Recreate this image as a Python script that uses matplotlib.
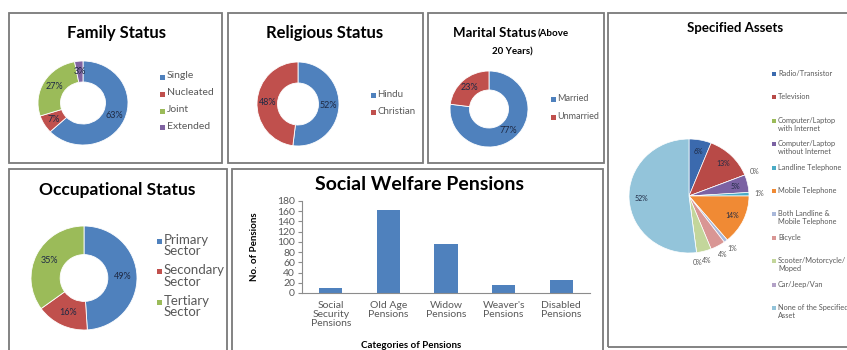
import math
import matplotlib
matplotlib.use('Agg')
from matplotlib import pyplot as plt
from matplotlib.patches import Rectangle

plt.rcParams['font.family'] = ['Lato', 'DejaVu Sans']

W, H = 847, 350

BLUE = '#4F81BD'
RED = '#C0504D'
GREEN = '#9BBB59'
PURPLE = '#8064A2'
GREY_TEXT = '#595959'

# --- data --- #
family_labels = ['Single', 'Nucleated', 'Joint', 'Extended']
family_values = [63, 7, 27, 3]

religion_labels = ['Hindu', 'Christian']
religion_values = [52, 48]

marital_labels = ['Married', 'Unmarried']
marital_values = [77, 23]

occupation_labels = ['Primary\nSector', 'Secondary\nSector', 'Tertiary\nSector']
occupation_values = [49, 16, 35]

pension_labels = ['Social\nSecurity\nPensions', 'Old Age\nPensions', 'Widow\nPensions',
                  "Weaver's\nPensions", 'Disabled\nPensions']
pension_counts = [9, 163, 95, 16, 25]
pension_ticks = list(range(0, 181, 20))

asset_labels = ['Radio/Transistor', 'Television', 'Computer/Laptop\nwith Internet',
                'Computer/Laptop\nwithout Internet', 'Landline Telephone', 'Mobile Telephone',
                'Both Landline &\nMobile Telephone', 'Bicycle', 'Scooter/Motorcycle/\nMoped',
                'Car/Jeep/Van', 'None of the Specified\nAsset']
asset_values = [6, 13, 0, 5, 1, 14, 1, 4, 4, 0, 52]
asset_colors = ['#3B6AAE', '#B84A47', '#9BBB59', '#7B62A3', '#4BACC6', '#F08A34',
                '#A9B8DA', '#D99694', '#C3D69B', '#B3A2C7', '#93C4DA']

fig = plt.figure(figsize=(W / 100, H / 100), dpi=100)


def fx(x):
    return x / W


def fy(y):
    return 1 - y / H


def add_box(x0, y0, x1, y1):
    fig.patches.append(Rectangle((fx(x0), fy(y1)), (x1 - x0) / W, (y1 - y0) / H,
                                 transform=fig.transFigure, fill=False,
                                 edgecolor='#7a7a7a', linewidth=1.3))


def add_legend(x, y0, step, labels, colors, size, box=5, spacing=1.15):
    for i, (label, color) in enumerate(zip(labels, colors)):
        y = y0 + i * step
        fig.patches.append(Rectangle((fx(x - box / 2), fy(y + box / 2)), box / W, box / H,
                                     transform=fig.transFigure, color=color, linewidth=0))
        fig.text(fx(x + box / 2 + 2), fy(y - size * 0.75), label, fontsize=size,
                 color=GREY_TEXT, va='top', ha='left', linespacing=spacing)


def donut(cx, cy, rx, ry, values, colors, width=0.5, label_size=6.5):
    ax = fig.add_axes([fx(cx - rx), fy(cy + ry), 2 * rx / W, 2 * ry / H])
    wedges, texts, autotexts = ax.pie(values, colors=colors, startangle=90, counterclock=False,
                                      autopct='%.0f%%', pctdistance=1 - width / 2,
                                      wedgeprops=dict(width=width, edgecolor='white', linewidth=0.6),
                                      textprops=dict(fontsize=label_size, color='#1f2a44'))
    for w in wedges:
        w.set_clip_on(False)
    ax.set_xlim(-1, 1)
    ax.set_ylim(-1, 1)
    ax.set_aspect('auto')
    ax.axis('off')
    return ax


# --- Family Status --- #
add_box(9, 13, 222, 163)
fig.text(fx(116), fy(33), 'Family Status', fontsize=12, fontweight='bold', ha='center', va='center')
donut(83, 103, 45, 42, family_values, [BLUE, RED, GREEN, PURPLE])
add_legend(162, 77, 17, family_labels, [BLUE, RED, GREEN, PURPLE], 7.5)

# --- Religious Status --- #
add_box(228, 13, 423, 163)
fig.text(fx(325), fy(33), 'Religious Status', fontsize=12, fontweight='bold', ha='center', va='center')
donut(298, 104, 41, 42, religion_values, [BLUE, RED])
add_legend(373, 95, 17, religion_labels, [BLUE, RED], 7)

# --- Marital Status --- #
add_box(428, 13, 604, 163)
fig.text(fx(536), fy(33), 'Marital Status', fontsize=9.5, fontweight='bold', ha='right', va='center')
fig.text(fx(538), fy(34), '(Above', fontsize=7, fontweight='bold', ha='left', va='center')
fig.text(fx(512), fy(52), '20 Years)', fontsize=7, fontweight='bold', ha='center', va='center')
donut(489, 109, 39, 38, marital_values, [BLUE, RED])
add_legend(553, 99, 18, marital_labels, [BLUE, RED], 6.5)

# --- Occupational Status --- #
add_box(9, 169, 227, 352)
fig.text(fx(117), fy(190), 'Occupational Status', fontsize=12.5, fontweight='bold', ha='center', va='center')
donut(84, 278, 53, 52, occupation_values, [BLUE, RED, GREEN], width=0.55)
add_legend(159, 241, 30.5, occupation_labels, [BLUE, RED, GREEN], 9.5, spacing=0.95)

# --- Social Welfare Pensions --- #
add_box(232, 169, 603, 352)
fig.text(fx(419), fy(185), 'Social Welfare Pensions', fontsize=14, fontweight='bold', ha='center', va='center')
ax = fig.add_axes([fx(302), fy(293), (590 - 302) / W, (293 - 201) / H])
x = range(len(pension_counts))
ax.bar(x, pension_counts, width=0.4, color=BLUE)
ax.set_xlim(-0.5, len(pension_counts) - 0.5)
ax.set_ylim(0, 180)
ax.set_yticks(pension_ticks)
ax.set_xticks(list(x))
ax.set_xticklabels(pension_labels, fontsize=7.5, color=GREY_TEXT, linespacing=0.95)
ax.tick_params(axis='y', labelsize=7.5, colors='#8c8c8c', labelcolor=GREY_TEXT, length=3, pad=2)
ax.tick_params(axis='x', length=0, pad=6)
for side in ['top', 'right']:
    ax.spines[side].set_visible(False)
for side in ['left', 'bottom']:
    ax.spines[side].set_color('#8c8c8c')
    ax.spines[side].set_linewidth(0.8)
ax.set_ylabel('No. of Pensions', fontsize=7, fontweight='bold')
ax.yaxis.set_label_coords(-0.15, 0.5)
ax.set_xlabel('Categories of Pensions', fontsize=7, fontweight='bold')
ax.xaxis.set_label_coords(0.38, -0.52)

# --- Specified Assets --- #
add_box(608, 13, 852, 347)
fig.text(fx(735), fy(28), 'Specified Assets', fontsize=9.5, fontweight='bold', ha='center', va='center')
ax = fig.add_axes([fx(689 - 60), fy(196 + 57), 120 / W, 114 / H])
wedges, _ = ax.pie(asset_values, colors=asset_colors, startangle=90, counterclock=False,
                   wedgeprops=dict(edgecolor='white', linewidth=0.5))
total = sum(asset_values)
start = 0
for w, v in zip(wedges, asset_values):
    w.set_clip_on(False)
    mid = (start + v / 2) / total * 360
    start += v
    r = 0.8 if v >= 5 else 1.17
    ax.text(r * math.sin(math.radians(mid)), r * math.cos(math.radians(mid)), f'{v}%',
            fontsize=5, color='#1f2a44' if v >= 5 else GREY_TEXT, ha='center', va='center', clip_on=False)
ax.set_xlim(-1, 1)
ax.set_ylim(-1, 1)
ax.set_aspect('auto')
ax.axis('off')
add_legend(774, 74, 23.4, asset_labels, asset_colors, 5.3, box=4)

plt.savefig('out.png', dpi=100)
